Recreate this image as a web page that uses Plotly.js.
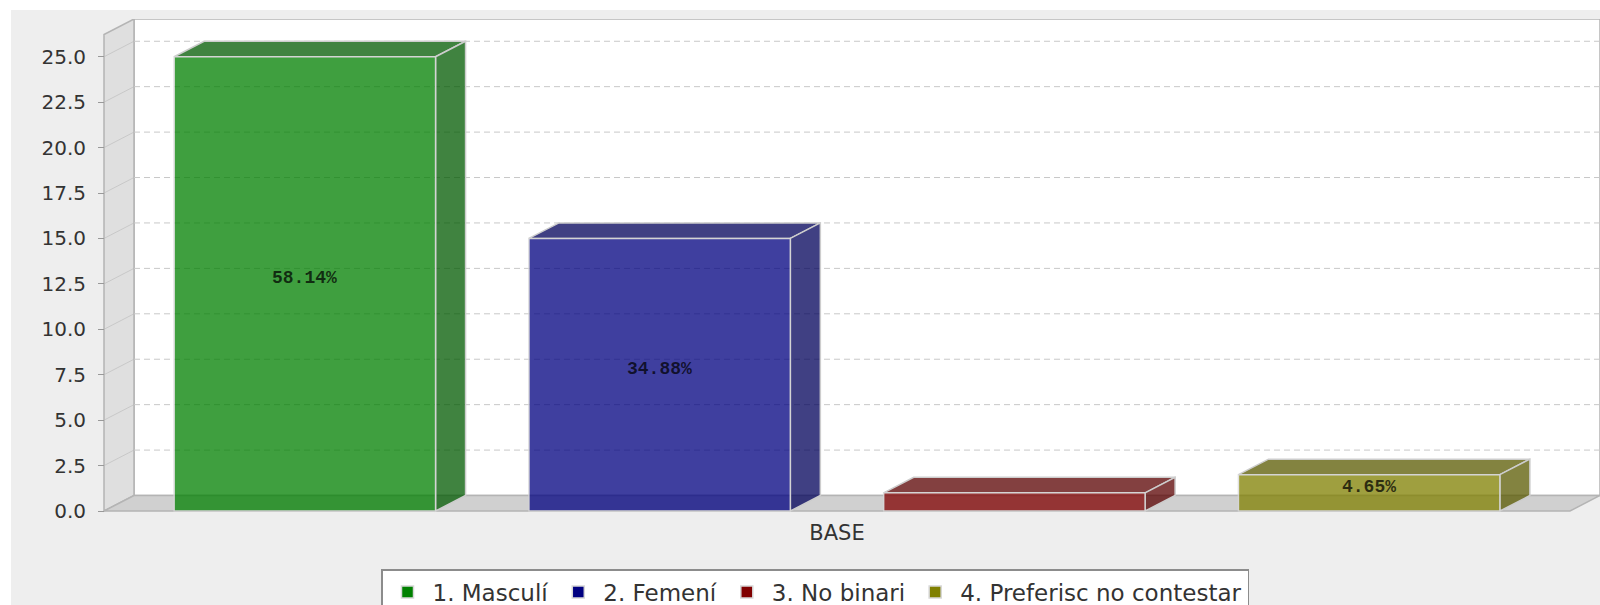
<!DOCTYPE html>
<html><head><meta charset="utf-8">
<script src="https://cdn.plot.ly/plotly-3.0.1.min.js"></script>
<style>
html,body{margin:0;padding:0;background:#ffffff;}
#chart{position:absolute;left:11px;top:10px;width:1589px;height:595px;}
</style></head><body><div id="chart"></div>
<script>
// ---- data ----
const categories = ['BASE'];
const seriesNames = ['1. Masculí', '2. Femení', '3. No binari', '4. Preferisc no contestar'];
const seriesValues = [25, 15, 1, 2];
const yTickVals = [0, 2.5, 5, 7.5, 10, 12.5, 15, 17.5, 20, 22.5, 25];

// ---- styles ----
const seriesColors = [[0,128,0],[0,0,128],[128,0,0],[128,128,0]];
const faceDarken = 0.7;
const alpha = 0.75;
const rgb = c => `rgb(${c[0]},${c[1]},${c[2]})`;
const rgba = (c,a) => `rgba(${c[0]},${c[1]},${c[2]},${a})`;
const dark = c => c.map(v => Math.round(v*faceDarken));

// ---- geometry (px inside the chart div) ----
const W = 1589, H = 595;
const plotL = 91, plotR = W, plotT = 9, plotB = 503;
const axisX = 93, zeroY = 501;
const frontW = 1466, pxPerUnitY = 18.17;
const depthX = 30, depthY = 15.5;
const barGap = 0.032, barGroupGap = 0.263;
const minLabelBarPx = 30;   // labels hidden on bars shorter than this

const xmin = -0.5 - (axisX - plotL)/frontW;
const xmax = xmin + (plotR - plotL)/frontW;
const ymin = -(plotB - zeroY)/pxPerUnitY;
const ymax = ymin + (plotB - plotT)/pxPerUnitY;
const dxu = depthX/frontW, dyu = depthY/pxPerUnitY;
const xL = -0.5, xR = 0.5;

const n = seriesValues.length;
const slot = (1 - barGap)/n;
const bw = slot*(1 - barGroupGap);
const offsets = seriesValues.map((_, i) => -(1 - barGap)/2 + slot*i + (slot - bw)/2);

const total = seriesValues.reduce((a,b)=>a+b, 0);
const pctLabels = seriesValues.map(v => (v/total*100).toFixed(2) + '%');

const f = v => v.toFixed(5);
const shapes = [];
const wallLine = {color:'#b4b4b4', width:1.5};
// back wall
shapes.push({type:'rect', xref:'x', yref:'y', layer:'below', x0:xL+dxu, x1:xmax, y0:dyu, y1:ymax, fillcolor:'#ffffff', line:wallLine});
// side wall
shapes.push({type:'path', xref:'x', yref:'y', layer:'below',
  path:`M${f(xL)},0 L${f(xL)},${f(ymax-dyu)} L${f(xL+dxu)},${f(ymax)} L${f(xL+dxu)},${f(dyu)} Z`,
  fillcolor:'#dfdfdf', line:wallLine});
// floor
shapes.push({type:'path', xref:'x', yref:'y', layer:'below',
  path:`M${f(xL)},0 L${f(xL+dxu)},${f(dyu)} L${f(xR+dxu)},${f(dyu)} L${f(xR)},0 Z`,
  fillcolor:'#d0d0d0', line:wallLine});
// gridlines on back wall + diagonals on side wall
yTickVals.filter(v => v > 0).forEach(v => {
  shapes.push({type:'line', xref:'x', yref:'y', layer:'below', x0:xL+dxu, x1:xmax, y0:v+dyu, y1:v+dyu,
    line:{color:'#c8c8c8', width:1, dash:'6px,4px'}});
  shapes.push({type:'line', xref:'x', yref:'y', layer:'below', x0:xL, x1:xL+dxu, y0:v, y1:v+dyu,
    line:{color:'rgba(185,185,185,0.6)', width:1}});
});
// 3D faces of bars
const faceLine = {color:'rgba(205,205,205,1)', width:1.5};
seriesValues.forEach((v, i) => {
  const L = offsets[i], R = offsets[i] + bw;
  const c = rgba(dark(seriesColors[i]), alpha);
  shapes.push({type:'path', xref:'x', yref:'y', layer:'below',
    path:`M${f(L)},${f(v)} L${f(L+dxu)},${f(v+dyu)} L${f(R+dxu)},${f(v+dyu)} L${f(R)},${f(v)} Z`,
    fillcolor:c, line:faceLine});
  shapes.push({type:'path', xref:'x', yref:'y', layer:'below',
    path:`M${f(R)},${f(v)} L${f(R+dxu)},${f(v+dyu)} L${f(R+dxu)},${f(dyu)} L${f(R)},0 Z`,
    fillcolor:c, line:faceLine});
});

const traces = seriesNames.map((name, i) => ({
  type:'bar', name:name,
  x:[0], y:[seriesValues[i]],
  width:[bw], offset:[offsets[i]],
  marker:{color:rgb(seriesColors[i]), opacity:alpha, line:{color:'rgb(215,215,215)', width:1.5}},
  hoverinfo:'skip'
}));

// percentage labels, centred on the bar front (slightly raised), hidden on very short bars
const annotations = seriesValues.map((v, i) => ({
  x: offsets[i] + bw/2, y: v/2, xref:'x', yref:'y',
  text: pctLabels[i], showarrow:false, yshift:6,
  visible: v*pxPerUnitY >= minLabelBarPx,
  font:{family:'Liberation Mono, monospace', size:18, weight:'bold', color:'rgba(0,0,0,0.72)'}
}));

const legendCenterX = 804;  // px in div
const legendTopY = 559;
const layout = {
  width:W, height:H,
  margin:{l:plotL, r:W-plotR, t:plotT, b:H-plotB, pad:0, autoexpand:false},
  paper_bgcolor:'#eeeeee', plot_bgcolor:'#eeeeee',
  barmode:'overlay',
  showlegend:true,
  font:{family:'DejaVu Sans, sans-serif', color:'#333333'},
  xaxis:{range:[xmin, xmax], showgrid:false, zeroline:false, showline:false, ticks:'',
    tickmode:'array', tickvals:categories.map((_, i) => i), ticktext:categories,
    tickfont:{family:'DejaVu Sans, sans-serif', size:21, color:'#333333'},
    ticklabelstandoff:5, fixedrange:true, automargin:false},
  yaxis:{range:[ymin, ymax], showgrid:false, zeroline:false, showline:false,
    anchor:'free', position:(axisX - plotL)/(plotR - plotL),
    ticks:'outside', ticklen:6, tickwidth:1, tickcolor:'#999999',
    tickmode:'array', tickvals:yTickVals, tickformat:'.1f',
    tickfont:{family:'DejaVu Sans, sans-serif', size:20, color:'#333333'},
    ticklabelstandoff:8, fixedrange:true, automargin:false},
  legend:{orientation:'h', x:(legendCenterX - plotL)/(plotR - plotL), xanchor:'center',
    y:-(legendTopY - plotB)/(plotB - plotT), yanchor:'top',
    bgcolor:'#ffffff', bordercolor:'#8c8c8c', borderwidth:1.5, itemwidth:40,
    font:{family:'DejaVu Sans, sans-serif', size:23, color:'#333333'},
    traceorder:'normal'},
  annotations:annotations,
  shapes:shapes
};

Plotly.newPlot('chart', traces, layout, {staticPlot:true, displayModeBar:false});
</script>
</body></html>
